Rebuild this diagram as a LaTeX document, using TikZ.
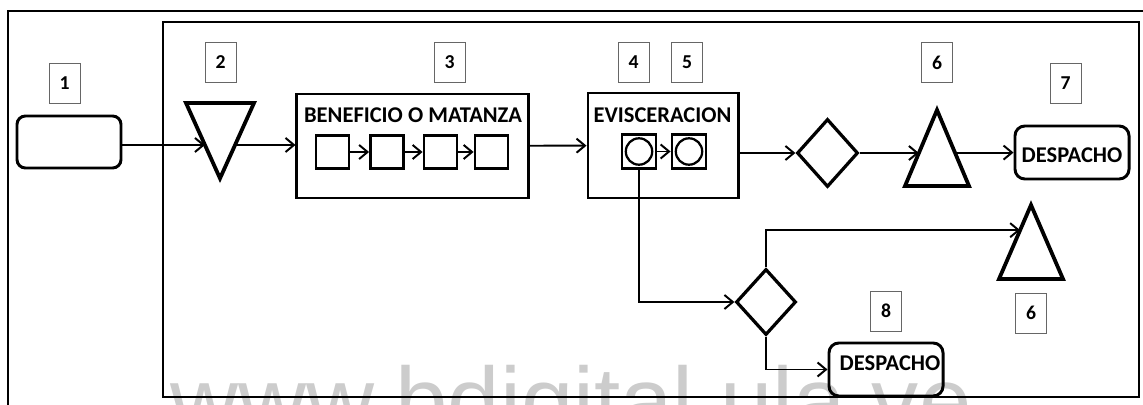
\documentclass[tikz,border=0pt]{standalone}
\usepackage{fontspec}
\setmainfont{Carlito}
\newfontfamily\wmfont{Liberation Sans}
\usetikzlibrary{arrows.meta,calc,positioning,shapes.geometric}
\tikzset{
  frame/.style={line width=2.1pt, draw=black},
  stepbox/.style={draw=black, line width=2.1pt, inner sep=0pt},
  startbox/.style={stepbox, rounded corners=6pt, minimum width=2.6cm, minimum height=1.3cm},
  endbox/.style={stepbox, rounded corners=7pt, minimum width=2.85cm, minimum height=1.325cm,
    font=\bfseries\fontsize{16pt}{19pt}\selectfont},
  opbox/.style={stepbox, line width=2pt, minimum size=0.825cm},
  opring/.style={opbox, minimum size=0.85cm,
    path picture={\draw[line width=1.6pt] (path picture bounding box.center) circle (0.33cm);}},
  store/.style={isosceles triangle, isosceles triangle stretches, draw=black, line width=2.7pt,
    inner sep=0pt, outer sep=0pt},
  check/.style={diamond, draw=black, line width=2.3pt, inner sep=0pt},
  ttl/.style={inner sep=0pt, font=\bfseries\fontsize{16pt}{19pt}\selectfont},
  numbox/.style={draw=black!60, line width=0.6pt, minimum width=0.775cm, minimum height=1cm,
    inner sep=0pt, font=\bfseries\fontsize{14pt}{16pt}\selectfont},
  arr/.style={-{Straight Barb[length=6pt,width=10pt]}, line width=1.4pt, draw=black},
  wmark/.style={anchor=base west, inner sep=0pt, text=black!20, font=\wmfont\fontsize{67pt}{70pt}\selectfont},
}

\begin{document}
\begin{tikzpicture}[x=0.025cm, y=-0.025cm]
\useasboundingbox (0,0) rectangle (1143,405);
\clip (0,0) rectangle (1143,405);

\node[wmark] (wm) at (170,433) {www.bdigital.ula.ve};

%% frames
\draw[frame] (1160,11) -- (8,11) -- (8,420);
\draw[frame] (163,22) rectangle (1139,397);

%% main line
\node[startbox] (n1) at (69,142) {};
\node[numbox] (lab1) at (64.5,83) {1};

\node[store, shape border rotate=270, minimum width=1.7cm, minimum height=1.885cm, anchor=apex] (t2) at (220,178.4) {};
\node[numbox] (lab2) at (220.5,62.5) {2};

\node[stepbox, minimum width=5.775cm, minimum height=2.6cm] (b3) at (412.5,146) {};
\node[ttl] (b3t) at (413,115) {BENEFICIO O MATANZA};
\node[opbox] (sq1) at (332.5,152) {};
\node[opbox] (sq2) at (387,152) {};
\node[opbox] (sq3) at (440.5,152) {};
\node[opbox] (sq4) at (491.5,152) {};
\node[numbox] (lab3) at (449.5,62.5) {3};

\node[stepbox, minimum width=3.75cm, minimum height=2.625cm] (b4) at (663,145.5) {};
\node[ttl] (b4t) at (662.5,115) {EVISCERACION};
\node[opring] (c1) at (639,151.5) {};
\node[opring] (c2) at (689,151.5) {};
\node[numbox] (lab4) at (633.5,62) {4};
\node[numbox] (lab5) at (687,62) {5};

\node[check, minimum width=1.525cm, minimum height=1.7cm] (dm1) at (827.5,153) {};

\node[store, shape border rotate=90, minimum width=1.6cm, minimum height=1.9cm, anchor=apex] (t6) at (937,110) {};
\node[numbox] (lab6) at (937,62.5) {6};

\node[endbox, text height=0.5cm] (d7) at (1072,152.5) {DESPACHO};
\node[numbox] (lab7) at (1065.5,83.5) {7};

%% lower branch
\node[check, minimum width=1.5cm, minimum height=1.65cm] (dm2) at (766,302) {};

\node[store, shape border rotate=90, minimum width=1.6cm, minimum height=1.85cm, anchor=apex] (t6b) at (1031,205) {};
\node[numbox] (lab6b) at (1031,313) {6};

\node[endbox, text depth=0.3cm] (d8) at (886,369.5) {\hspace{0.2cm}DESPACHO};
\node[numbox] (lab8) at (886,311) {8};

%% points on the triangle sides
\coordinate (t2in) at ($(t2.apex)!0.443!(t2.right corner)$);
\coordinate (t2out) at ($(t2.apex)!0.443!(t2.left corner)$);
\coordinate (t6in) at ($(t6.apex)!0.566!(t6.left corner)$);
\coordinate (t6out) at ($(t6.apex)!0.56!(t6.right corner)$);
\coordinate (t6bin) at ($(t6b.apex)!0.34!(t6b.left corner)$);

%% connectors
\draw[arr] (n1.east |- t2in) -- (t2in);
\draw[arr] (t2out) -- (t2out -| b3.west);
\draw[arr] (sq1) -- (sq2);
\draw[arr] (sq2) -- (sq3);
\draw[arr] (sq3) -- (sq4);
\draw[arr] (b3) -- (b4);
\draw[arr] (c1) -- (c2);
\draw[arr] (dm1 -| b4.east) -- (dm1);
\draw[arr] (t6in -| dm1.east) -- (t6in);
\draw[arr] (t6out) -- (t6out -| d7.west);
\draw[arr] (c1.south) |- (dm2);
\draw[arr] (dm2.north) |- (t6bin);
\draw[arr] (dm2.south) |- (d8);

\end{tikzpicture}
\end{document}
